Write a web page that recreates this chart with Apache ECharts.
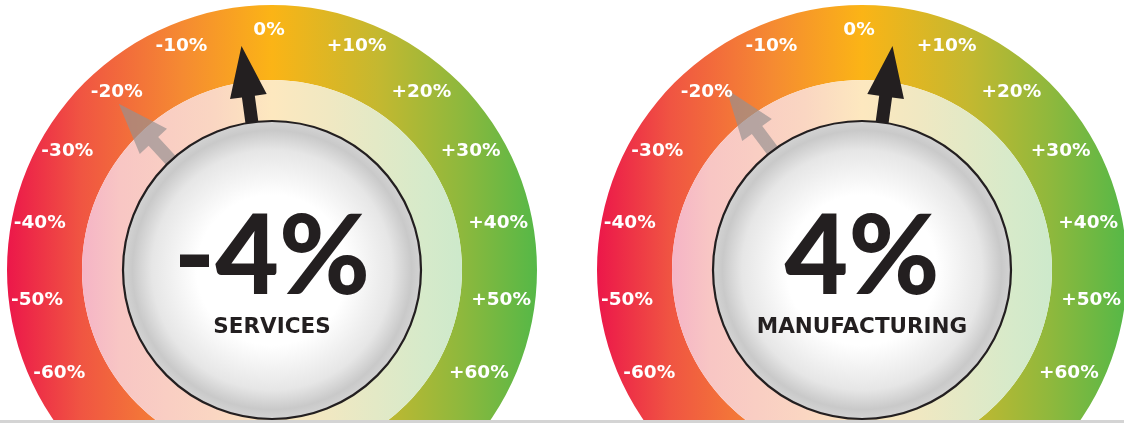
<!DOCTYPE html>
<html>
<head>
<meta charset="utf-8">
<script src="https://cdn.jsdelivr.net/npm/echarts@6/dist/echarts.min.js"></script>
<style>
  html, body { margin: 0; padding: 0; background: #ffffff; }
  #chart { width: 1124px; height: 423px; }
</style>
</head>
<body>
<div id="chart"></div>
<script>
// ---- data ----
const sectors = ['SERVICES', 'MANUFACTURING'];
const currentValues = [-4, 4];
const previousValues = [-22, -19];
const scaleMin = -60;
const scaleMax = 60;
const scaleSplits = 12;
const tickLabelsLeft = [-60, -50, -40, -30, -20];
const tickLabelsTop = [-10, 0, 10];
const tickLabelsRight = [20, 30, 40, 50, 60];

// ---- layout / style ----
const centersX = [272, 862];
const centerY = 270;
const R_OUTER = 265, R_PALE = 190, R_DISC = 149;
const HALF_SWEEP = 116.4;           // degrees from top for +/-60 (pointer scale)
const START = 90 + HALF_SWEEP, END = 90 - HALF_SWEEP;
const LABEL_R = 234, LABEL_R_TOP = 240, LABEL_DX = -3;
const LABEL_FONT = 18.5, LABEL_LH = 20;

const ringStops = [
  [0.00, '#EC174A'], [0.14, '#F05542'], [0.33, '#F58A32'], [0.50, '#FBB416'],
  [0.70, '#C4B830'], [0.86, '#8DB83D'], [1.00, '#55B847']
];
const paleStops = [
  [0.00, '#F5B4C6'], [0.10, '#F8C6C4'], [0.35, '#FAD6C2'], [0.50, '#FDE8BF'],
  [0.65, '#F0E8C2'], [0.90, '#D6EACA'], [1.00, '#CDE9CB']
];

function lin(cx, r, stops) {
  return new echarts.graphic.LinearGradient(cx - r, 0, cx + r, 0,
    stops.map(s => ({ offset: s[0], color: s[1] })), true);
}
const fmt = v => (v > 0 ? '+' : '') + v + '%';

// text width measurement for label alignment compensation
const mctx = document.createElement('canvas').getContext('2d');
mctx.font = 'bold ' + LABEL_FONT + 'px "DejaVu Sans"';
const textW = s => mctx.measureText(s).width;
const wLeft = textW(fmt(tickLabelsLeft[0]));
const wRight = textW(fmt(tickLabelsRight[0]));

const hidden = {
  axisTick: { show: false }, splitLine: { show: false, length: 0, distance: 0 },
  axisLabel: { show: false }, detail: { show: false }, title: { show: false }
};

const arrowPath = 'path://M18.5 0 L37 51 L25 51 L25 226 L12 226 L12 51 L0 51 Z';

function labelSeries(center, radius, values, startA, endA) {
  return {
    type: 'gauge', center, radius, startAngle: startA, endAngle: endA,
    min: values[0], max: values[values.length - 1], splitNumber: values.length - 1,
    silent: true, z: 5,
    axisLine: { show: false }, axisTick: { show: false },
    splitLine: { show: false, length: 0, distance: 0 },
    axisLabel: {
      show: true, distance: 0, color: '#ffffff', fontFamily: 'DejaVu Sans',
      fontWeight: 'bold', fontSize: LABEL_FONT, lineHeight: LABEL_LH,
      formatter: fmt
    },
    pointer: { show: false }, detail: { show: false }, title: { show: false },
    data: [{ value: values[0] }]
  };
}

const series = [];
sectors.forEach((name, i) => {
  const cx = centersX[i];
  const center = [cx, centerY];
  // outer coloured ring (full circle)
  series.push(Object.assign({
    type: 'gauge', center, radius: R_OUTER, startAngle: 90, endAngle: -270,
    silent: true, z: 1, pointer: { show: false },
    axisLine: { lineStyle: { width: R_OUTER - R_PALE, color: [[1, lin(cx, R_OUTER, ringStops)]] } },
    data: [{ value: 0 }]
  }, hidden));
  // pale inner ring
  series.push(Object.assign({
    type: 'gauge', center, radius: R_PALE, startAngle: 90, endAngle: -270,
    silent: true, z: 2, pointer: { show: false },
    axisLine: { lineStyle: { width: R_PALE - R_DISC + 2, color: [[1, lin(cx, R_PALE, paleStops)]] } },
    data: [{ value: 0 }]
  }, hidden));
  // previous value (grey arrow)
  series.push(Object.assign({
    type: 'gauge', center, radius: R_OUTER, startAngle: START, endAngle: END,
    min: scaleMin, max: scaleMax, splitNumber: scaleSplits,
    silent: true, z: 3, axisLine: { show: false },
    pointer: { show: true, icon: arrowPath, length: 226, width: 37, offsetCenter: [0, 0],
      itemStyle: { color: 'rgba(150,145,145,0.68)' } },
    data: [{ value: previousValues[i] }]
  }, hidden));
  // tick labels (three groups, compensating auto alignment)
  const lx = cx + LABEL_DX;
  series.push(labelSeries([lx - wLeft / 2, centerY], LABEL_R, tickLabelsLeft, 90 + 116.3, 90 + 40.6));
  series.push(labelSeries([lx + wRight / 2, centerY], LABEL_R, tickLabelsRight, 90 - 40.6, 90 - 116.3));
  series.push(labelSeries([lx, centerY - LABEL_LH / 2], LABEL_R_TOP, tickLabelsTop, 90 + 21.4, 90 - 21.4));
  // current arrow and disc
  series.push({
    type: 'gauge', center, radius: R_OUTER, startAngle: START, endAngle: END,
    min: scaleMin, max: scaleMax, splitNumber: scaleSplits,
    silent: true, z: 4,
    axisLine: { show: false }, axisTick: { show: false },
    splitLine: { show: false, length: 0, distance: 0 }, axisLabel: { show: false },
    pointer: { show: true, icon: arrowPath, length: 226, width: 37, offsetCenter: [0, 0],
      itemStyle: { color: '#231F20' } },
    anchor: {
      show: true, showAbove: true, size: R_DISC * 2, icon: 'circle', offsetCenter: [0, 0],
      itemStyle: {
        color: new echarts.graphic.RadialGradient(0.5, 0.5, 0.5, [
          { offset: 0, color: '#ffffff' }, { offset: 0.5, color: '#ffffff' },
          { offset: 0.8, color: '#e6e6e6' }, { offset: 0.93, color: '#c9c9c9' },
          { offset: 1, color: '#d4d4d4' }
        ]),
        borderColor: '#231F20', borderWidth: 2.2
      }
    },
    detail: { show: false }, title: { show: false },
    data: [{ value: currentValues[i], name: name }]
  });
  // centre texts
  series.push({
    type: 'gauge', center, radius: R_DISC, startAngle: START, endAngle: END,
    min: scaleMin, max: scaleMax, silent: true, z: 6,
    axisLine: { show: false }, axisTick: { show: false },
    splitLine: { show: false }, axisLabel: { show: false },
    pointer: { show: false },
    detail: {
      show: true, offsetCenter: [0, -11], fontFamily: 'Lato', fontWeight: 900,
      fontSize: 110, color: '#231F20',
      formatter: v => v + '%'
    },
    title: {
      show: true, offsetCenter: [0, 57], fontFamily: 'DejaVu Sans', fontWeight: 'bold',
      fontSize: 21.5, color: '#231F20'
    },
    data: [{ value: currentValues[i], name: name }]
  });
});

const chart = echarts.init(document.getElementById('chart'), null, { renderer: 'canvas' });
chart.setOption({
  animation: false,
  backgroundColor: '#ffffff',
  series: series,
  graphic: [
    { type: 'rect', left: 0, top: 420, z: 100, shape: { width: 1124, height: 3 },
      style: { fill: '#d4d4d4' } }
  ]
});
</script>
</body>
</html>
